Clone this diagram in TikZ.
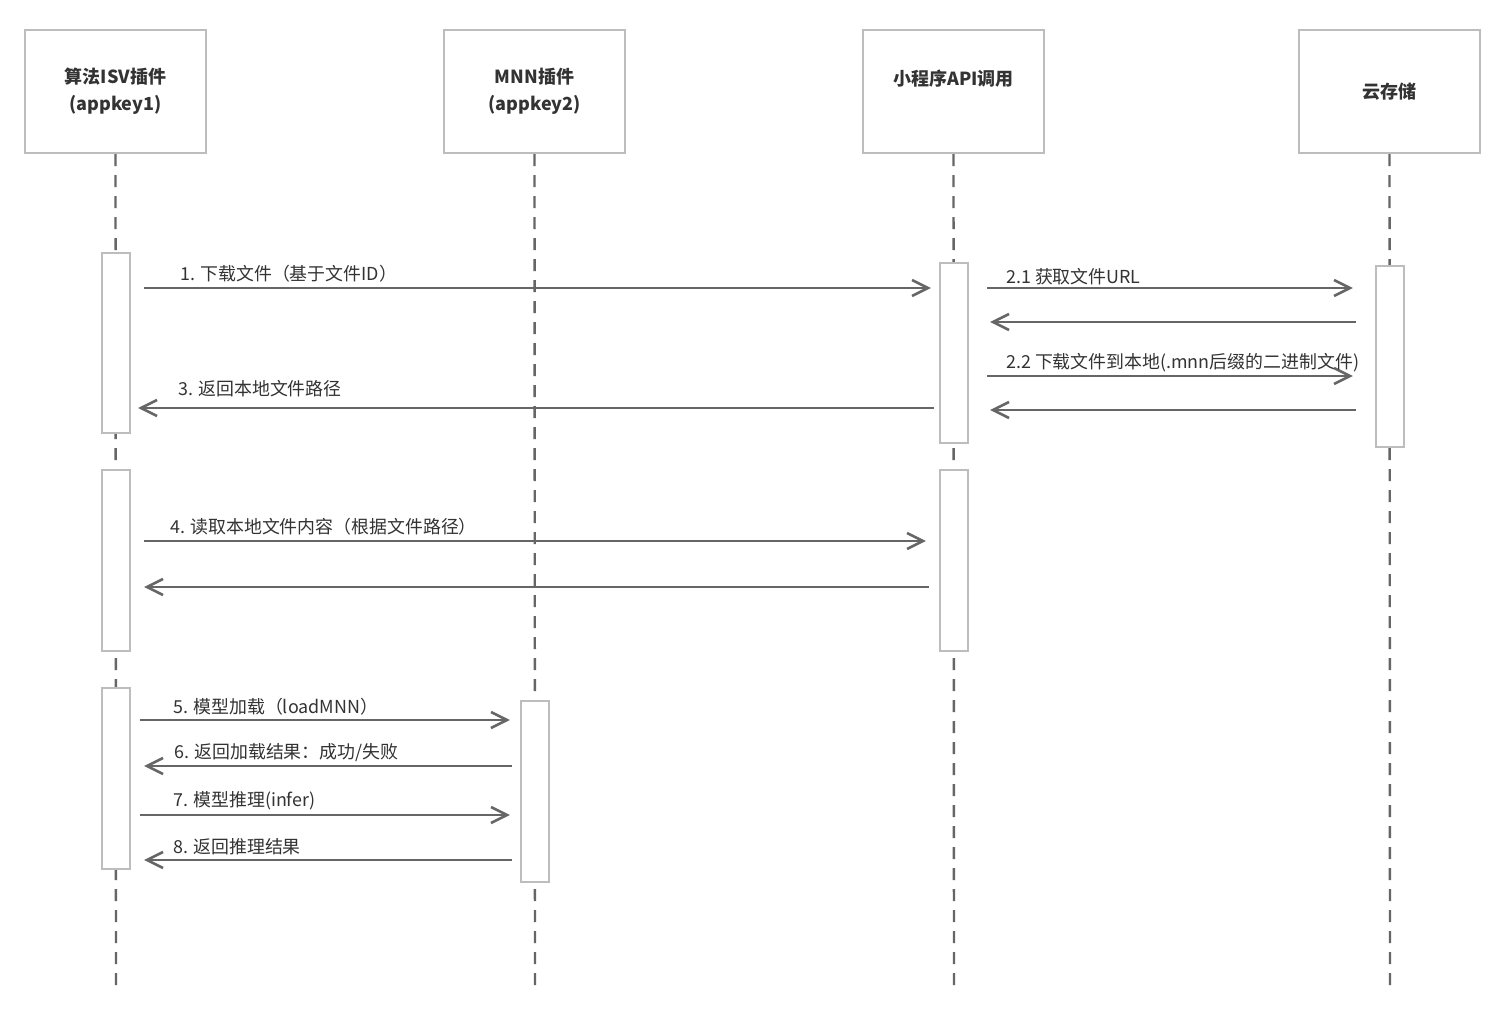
\documentclass[tikz,border=0pt]{standalone}
\usepackage{fontspec}
\setmainfont{Noto Sans CJK SC}
\usetikzlibrary{arrows.meta}
\definecolor{boxgray}{HTML}{BDBDBD}
\definecolor{linegray}{HTML}{666666}
\definecolor{txtgray}{HTML}{333333}
\begin{document}
\begin{tikzpicture}[x=1pt,y=-1pt,
  hdr/.style={draw=boxgray,line width=2.4pt,minimum width=181pt,minimum height=123pt,inner sep=0pt,
    align=center,font=\fontsize{18}{27}\selectfont\bfseries,text=txtgray},
  life/.style={draw=linegray,line width=2.4pt,dash pattern=on 12pt off 9pt},
  bar/.style={draw=boxgray,fill=white,line width=2.2pt,minimum width=28pt,inner sep=0pt},
  msg/.style={draw=linegray,line width=2.6pt,-{Straight Barb[length=16pt,width=16pt]}},
  lbl/.style={anchor=base west,inner sep=0pt,font=\fontsize{17.9}{21}\selectfont,text=txtgray}]
\fill[white] (0,0) rectangle (1500,1030);
% headers
\node[hdr] (hA) at (115.5,91.5) {算法ISV插件\\(appkey1)};
\node[hdr] (hB) at (534.5,91.5) {MNN插件\\(appkey2)};
\node[hdr] (hC) at (953.5,91.5) {小程序API调用\\\mbox{}};
\node[hdr] (hD) at (1389.5,91.5) {云存储};
% lifeline ends
\coordinate (eA) at (116,992);
\coordinate (eB) at (535,992);
\coordinate (eC) at (954,992);
\coordinate (eD) at (1390,992);
\draw[life] (hA.south) -- (eA);
\draw[life] (hB.south) -- (eB);
\draw[life] (hC.south) -- (eC);
\draw[life] (hD.south) -- (eD);
% activation bars
\node[bar,minimum height=180pt] (A1) at (116,343) {};
\node[bar,minimum height=181pt] (A2) at (116,560.5) {};
\node[bar,minimum height=181pt] (A3) at (116,778.5) {};
\node[bar,minimum height=180pt] (C1) at (954,353) {};
\node[bar,minimum height=181pt] (C2) at (954,560.5) {};
\node[bar,minimum height=181pt] (D1) at (1390,356.5) {};
\node[bar,minimum height=181pt] (B1) at (535,791.5) {};
% messages
\draw[msg,shorten <=13pt,shorten >=8pt] (A1.east |- 0,288) -- (C1.west |- 0,288);
\node[lbl] (l1) at (180,280) {1. 下载文件（基于文件ID）};
\draw[msg,shorten <=18pt,shorten >=22pt] (C1.east |- 0,288) -- (D1.west |- 0,288);
\node[lbl] (l21) at (1006,283) {2.1 获取文件URL};
\draw[msg,shorten <=19pt,shorten >=21pt] (D1.west |- 0,322) -- (C1.east |- 0,322);
\draw[msg,shorten <=18pt,shorten >=22pt] (C1.east |- 0,376) -- (D1.west |- 0,376);
\node[lbl] (l22) at (1006,368) {2.2 下载文件到本地(.mnn后缀的二进制文件)};
\draw[msg,shorten <=19pt,shorten >=21pt] (D1.west |- 0,410) -- (C1.east |- 0,410);
\draw[msg,shorten <=5pt,shorten >=7pt] (C1.west |- 0,408) -- (A1.east |- 0,408);
\node[lbl] (l3) at (178,395) {3. 返回本地文件路径};
\draw[msg,shorten <=13pt,shorten >=13pt] (A2.east |- 0,541) -- (C2.west |- 0,541);
\node[lbl] (l4) at (170,533) {4. 读取本地文件内容（根据文件路径）};
\draw[msg,shorten <=10pt,shorten >=13pt] (C2.west |- 0,587) -- (A2.east |- 0,587);
\draw[msg,shorten <=9pt,shorten >=10pt] (A3.east |- 0,720) -- (B1.west |- 0,720);
\node[lbl] (l5) at (173,713) {5. 模型加载（loadMNN）};
\draw[msg,shorten <=8pt,shorten >=13pt] (B1.west |- 0,766) -- (A3.east |- 0,766);
\node[lbl] (l6) at (174,758) {6. 返回加载结果：成功/失败};
\draw[msg,shorten <=9pt,shorten >=10pt] (A3.east |- 0,815) -- (B1.west |- 0,815);
\node[lbl] (l7) at (173,806) {7. 模型推理(infer)};
\draw[msg,shorten <=8pt,shorten >=13pt] (B1.west |- 0,860) -- (A3.east |- 0,860);
\node[lbl] (l8) at (173,853) {8. 返回推理结果};
\end{tikzpicture}
\end{document}
